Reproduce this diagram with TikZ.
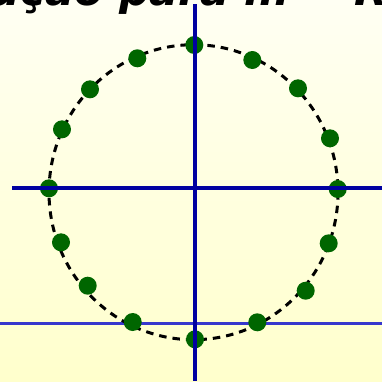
\documentclass[tikz,border=0pt]{standalone}
\usepackage{fontspec}
\setsansfont{DejaVu Sans}
\usetikzlibrary{positioning}

\definecolor{axisblue}{RGB}{0,0,160}
\definecolor{auxblue}{RGB}{55,55,205}
\definecolor{rootgreen}{RGB}{0,102,0}
\definecolor{paletop}{RGB}{255,255,243}
\definecolor{palebot}{RGB}{255,255,204}

\begin{document}
\begin{tikzpicture}[
    x=1pt, y=-1pt,
    axis/.style={draw=axisblue, line width=3.6pt},
    aux/.style={draw=auxblue, line width=3pt},
    ring/.style={draw=black, line width=3pt, dash pattern=on 7.5pt off 6pt},
    root/.style={circle, fill=rootgreen, minimum size=18pt, inner sep=0pt},
    title/.style={font=\sffamily\bfseries\itshape\fontsize{43}{50}\selectfont, anchor=base west, inner sep=0pt},
]
% Background
\fill[top color=paletop, bottom color=palebot] (0,0) rectangle (382,381);
\useasboundingbox (0,0) rectangle (382,381);

% Title (cut off at the top)
\begin{scope}
\clip (0,0) rectangle (382,381);
\node[title] (heading) at (-86,5) {Solução para m = R};
\end{scope}

% Axis end points
\coordinate (vtop) at (195,4);
\coordinate (vbot) at (195,381);
\coordinate (hleft) at (12,188);
\coordinate (hright) at (382,188);
\coordinate (lleft) at (0,323);
\coordinate (lright) at (382,323);

% Auxiliary line
\draw[aux] (lleft) -- (lright);

% Dashed circle
\draw[ring] (193.5,192.2) ellipse [x radius=144.5, y radius=147.5];

% Roots
\foreach \px/\py [count=\k] in {194.3/45, 252.3/60, 298/88.3, 330/138.3,
    337.7/189, 328.7/243.3, 305.7/290.7, 257.3/322.3, 195/339.3, 132.7/322,
    87.7/285.7, 61/242.3, 49/188.3, 62/129.3, 90/89.3, 137.3/58.3}
  \node[root] (r\k) at (\px,\py) {};

% Axes
\draw[axis] (vtop) -- (vbot);
\draw[axis] (hleft) -- (hright);
\end{tikzpicture}
\end{document}
